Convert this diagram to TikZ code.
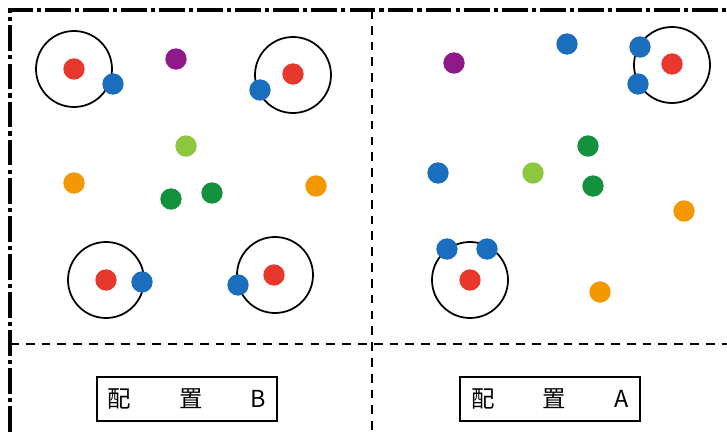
\documentclass[tikz,border=0pt]{standalone}
\usepackage{fontspec}
\newfontfamily\cjk{Noto Sans CJK SC}
\usetikzlibrary{positioning}

\definecolor{dotred}{HTML}{E8382E}
\definecolor{dotblue}{HTML}{1B6EBE}
\definecolor{dotpurple}{HTML}{8E1A8A}
\definecolor{dotlime}{HTML}{8DC63F}
\definecolor{dotgreen}{HTML}{13913D}
\definecolor{dotorange}{HTML}{F39800}

\begin{document}
\begin{tikzpicture}[x=0.03cm, y=-0.03cm,
  dot/.style={circle, inner sep=0pt, minimum size=0.64cm, fill=#1},
  orbit/.style={circle, draw=black, line width=1.5pt, inner sep=0pt, minimum size=2.28cm},
  frameline/.style={line width=3.4pt, dash pattern=on 22pt off 3.5pt on 3.5pt off 3.5pt},
  splitline/.style={line width=1.8pt, dash pattern=on 7.5pt off 6pt},
  labelbox/.style={draw, line width=1.8pt, font=\cjk\fontsize{20}{20}\selectfont,
    text width=4.74cm, minimum height=1.32cm, inner xsep=0.33cm, inner ysep=0pt}]
  \useasboundingbox (0,0) rectangle (727,432);
  \clip (0,0) rectangle (727,432);

  % Frame and split lines
  \draw[frameline] (10,432) -- (10,10) -- (740,10);
  \draw[splitline] (372,10) -- (372,440);
  \draw[splitline] (10,344) -- (740,344);

  % === Left panel: layout B ===
  \node[orbit] (oB1) at (74,69) {};
  \node[orbit] (oB2) at (293,75) {};
  \node[orbit] (oB3) at (106,280) {};
  \node[orbit] (oB4) at (275,275) {};
  \node[dot=dotred] (rB1) at (oB1) {};
  \node[dot=dotred] (rB2) at (293,74) {};
  \node[dot=dotred] (rB3) at (oB3) {};
  \node[dot=dotred] (rB4) at (274,275) {};
  \node[dot=dotblue] (bB1) at (113,84) {};
  \node[dot=dotblue] (bB2) at (260,90) {};
  \node[dot=dotblue] (bB3) at (142,282) {};
  \node[dot=dotblue] (bB4) at (238,285) {};
  \node[dot=dotpurple] (pB) at (176,59) {};
  \node[dot=dotlime] (lB) at (186,146) {};
  \node[dot=dotgreen] (gB1) at (171,199) {};
  \node[dot=dotgreen] (gB2) at (212,193) {};
  \node[dot=dotorange] (yB1) at (74,183) {};
  \node[dot=dotorange] (yB2) at (316,186) {};

  % === Right panel: layout A ===
  \node[orbit] (oA1) at (672,65) {};
  \node[orbit] (oA2) at (470,280) {};
  \node[dot=dotred] (rA1) at (672,64) {};
  \node[dot=dotred] (rA2) at (oA2) {};
  \node[dot=dotblue] (bA1) at (640,47) {};
  \node[dot=dotblue] (bA2) at (638,84) {};
  \node[dot=dotblue] (bA3) at (447,249) {};
  \node[dot=dotblue] (bA4) at (487,249) {};
  \node[dot=dotblue] (bA5) at (567,44) {};
  \node[dot=dotblue] (bA6) at (438,173) {};
  \node[dot=dotpurple] (pA) at (454,63) {};
  \node[dot=dotlime] (lA) at (533,173) {};
  \node[dot=dotgreen] (gA1) at (588,146) {};
  \node[dot=dotgreen] (gA2) at (593,186) {};
  \node[dot=dotorange] (yA1) at (684,211) {};
  \node[dot=dotorange] (yA2) at (600,292) {};

  % Labels
  \node[labelbox] (capB) at (187,399) {配\hfill 置\hfill B};
  \node[labelbox] (capA) at (550,399) {配\hfill 置\hfill A};
\end{tikzpicture}
\end{document}
